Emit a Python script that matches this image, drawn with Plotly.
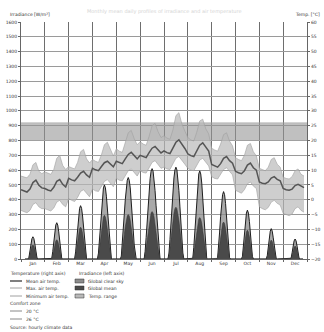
import plotly.graph_objects as go

months = ["Jan", "Feb", "Mar", "Apr", "May", "Jun",
          "Jul", "Aug", "Sep", "Oct", "Nov", "Dec"]

# hourly irradiance, hours 4..20, one list per month (W/m2)
rad_hours = list(range(4, 21))
global_clear = [
    [0, 0, 0, 0, 11, 53, 100, 137, 150, 137, 100, 53, 11, 0, 0, 0, 0],
    [0, 0, 0, 4, 52, 119, 183, 229, 245, 229, 183, 119, 52, 4, 0, 0, 0],
    [0, 0, 0, 48, 127, 214, 290, 342, 360, 342, 290, 214, 127, 48, 0, 0, 0],
    [0, 0, 40, 129, 234, 337, 424, 480, 500, 480, 424, 337, 234, 129, 40, 0, 0],
    [0, 19, 95, 195, 301, 400, 480, 532, 550, 532, 480, 400, 301, 195, 95, 19, 0],
    [0, 52, 145, 253, 363, 462, 542, 593, 610, 593, 542, 462, 363, 253, 145, 52, 0],
    [0, 40, 131, 242, 357, 463, 547, 601, 620, 601, 547, 463, 357, 242, 131, 40, 0],
    [0, 5, 79, 186, 307, 420, 513, 574, 595, 574, 513, 420, 307, 186, 79, 5, 0],
    [0, 0, 10, 81, 182, 286, 374, 434, 455, 434, 374, 286, 182, 81, 10, 0, 0],
    [0, 0, 0, 18, 88, 175, 254, 310, 330, 310, 254, 175, 88, 18, 0, 0, 0],
    [0, 0, 0, 0, 23, 81, 143, 188, 205, 188, 143, 81, 23, 0, 0, 0, 0],
    [0, 0, 0, 0, 5, 42, 87, 122, 135, 122, 87, 42, 5, 0, 0, 0, 0],
]
global_mean = [
    [0, 0, 0, 0, 7, 34, 64, 87, 95, 87, 64, 34, 7, 0, 0, 0, 0],
    [0, 0, 0, 2, 28, 63, 97, 121, 130, 121, 97, 63, 28, 2, 0, 0, 0],
    [0, 0, 0, 28, 76, 128, 173, 204, 215, 204, 173, 128, 76, 28, 0, 0, 0],
    [0, 0, 23, 76, 138, 199, 250, 283, 295, 283, 250, 199, 138, 76, 23, 0, 0],
    [0, 10, 52, 106, 164, 218, 262, 290, 300, 290, 262, 218, 164, 106, 52, 10, 0],
    [0, 28, 76, 132, 190, 243, 284, 311, 320, 311, 284, 243, 190, 132, 76, 28, 0],
    [0, 22, 74, 137, 202, 261, 309, 340, 350, 340, 309, 261, 202, 137, 74, 22, 0],
    [0, 3, 37, 88, 144, 198, 241, 270, 280, 270, 241, 198, 144, 88, 37, 3, 0],
    [0, 0, 5, 45, 100, 157, 206, 239, 250, 239, 206, 157, 100, 45, 5, 0, 0],
    [0, 0, 0, 11, 52, 103, 150, 183, 195, 183, 150, 103, 52, 11, 0, 0, 0],
    [0, 0, 0, 0, 14, 51, 89, 118, 128, 118, 89, 51, 14, 0, 0, 0, 0],
    [0, 0, 0, 0, 3, 27, 57, 79, 88, 79, 57, 27, 3, 0, 0, 0, 0],
]

# 3-hourly air temperature, one list per month (deg C)
temp_hours = [0, 3, 6, 9, 12, 15, 18, 21]
temp_mean = [
    [3.4, 2.9, 2.6, 3.6, 5.8, 6.6, 4.9, 4.0],
    [3.8, 3.3, 3.0, 4.2, 6.2, 6.8, 5.2, 4.3],
    [7.2, 6.7, 6.4, 7.6, 9.0, 9.6, 8.4, 7.6],
    [10.6, 10.1, 9.8, 11.2, 12.5, 13.0, 12.0, 11.1],
    [13.0, 12.5, 12.2, 13.8, 15.3, 16.0, 14.9, 13.8],
    [15.0, 14.5, 14.2, 15.9, 17.4, 18.0, 17.0, 15.8],
    [16.5, 15.9, 15.6, 17.6, 19.4, 20.2, 18.9, 17.3],
    [15.5, 14.9, 14.6, 16.3, 18.4, 19.2, 17.8, 16.4],
    [11.9, 11.4, 11.0, 12.2, 14.0, 14.6, 13.2, 12.3],
    [9.6, 9.1, 8.8, 9.8, 11.7, 12.4, 10.8, 10.0],
    [6.0, 5.6, 5.4, 6.0, 7.3, 7.8, 6.9, 6.4],
    [3.8, 3.4, 3.2, 3.6, 4.8, 5.2, 4.5, 4.1],
]
temp_max = [
    [8.0, 7.6, 7.4, 8.6, 11.8, 12.6, 9.6, 8.8],
    [9.4, 9.0, 8.6, 10.2, 14.0, 15.0, 11.6, 10.2],
    [11.2, 10.8, 10.4, 12.6, 16.2, 17.0, 13.8, 12.4],
    [13.6, 13.0, 12.6, 15.2, 18.6, 19.4, 16.8, 14.8],
    [17.2, 16.4, 16.0, 19.0, 22.6, 23.4, 20.6, 18.6],
    [19.6, 18.8, 18.4, 21.4, 25.0, 25.8, 23.0, 21.0],
    [21.6, 20.8, 20.4, 23.6, 28.4, 29.4, 25.6, 23.2],
    [21.0, 20.2, 19.8, 22.8, 26.6, 27.2, 24.0, 22.2],
    [17.4, 16.8, 16.4, 18.8, 22.0, 22.6, 19.8, 18.2],
    [14.2, 13.6, 13.2, 15.0, 18.4, 19.0, 16.2, 14.8],
    [10.6, 10.2, 9.8, 11.0, 13.6, 14.2, 12.0, 11.0],
    [7.6, 7.2, 7.0, 7.8, 9.8, 10.4, 8.6, 8.0],
]
temp_min = [
    [-3.6, -4.0, -4.4, -3.6, -1.6, -1.0, -2.4, -3.0],
    [-3.0, -3.4, -3.8, -2.8, -0.8, -0.2, -1.6, -2.4],
    [0.4, -0.2, -0.6, 0.8, 2.8, 3.4, 2.0, 1.0],
    [3.6, 3.0, 2.8, 4.4, 6.2, 6.8, 5.6, 4.4],
    [7.2, 6.6, 6.4, 8.0, 9.8, 10.4, 9.2, 8.0],
    [9.8, 9.2, 9.0, 10.8, 12.6, 13.2, 12.0, 10.6],
    [11.0, 10.4, 10.2, 12.0, 14.0, 14.6, 13.4, 12.0],
    [10.6, 10.0, 9.8, 11.4, 13.4, 14.0, 12.6, 11.4],
    [7.8, 7.2, 7.0, 8.4, 10.2, 10.8, 9.4, 8.4],
    [3.2, 2.6, 2.2, 3.4, 5.4, 6.0, 4.6, 3.8],
    [-2.4, -3.0, -3.4, -2.6, -0.8, -0.2, -1.2, -1.8],
    [-4.6, -5.0, -5.4, -4.8, -3.0, -2.4, -3.6, -4.2],
]

comfort_low = 20
comfort_high = 26


def flatten(series, hours):
    """Lay the monthly daily profiles side by side: month m spans [m, m+1]."""
    xs, ys = [], []
    for m, vals in enumerate(series):
        for h, v in zip(hours, vals):
            xs.append(m + h / 24)
            ys.append(v)
    return xs, ys


fig = go.Figure()

# comfort zone band
fig.add_trace(go.Scatter(x=[0, 12], y=[comfort_low, comfort_low], yaxis="y2",
                         mode="lines", line=dict(color="#a8a8a8", width=0.5)))
fig.add_trace(go.Scatter(x=[0, 12], y=[comfort_high, comfort_high], yaxis="y2",
                         mode="lines", line=dict(color="#a8a8a8", width=0.5),
                         fill="tonexty", fillcolor="rgba(150,150,150,0.6)"))

# irradiance
x, y = flatten(global_clear, rad_hours)
fig.add_trace(go.Scatter(x=x, y=y, mode="lines", fill="tozeroy",
                         fillcolor="rgba(140,140,140,0.75)",
                         line=dict(color="#1e1e1e", width=1)))
x, y = flatten(global_mean, rad_hours)
fig.add_trace(go.Scatter(x=x, y=y, mode="lines", fill="tozeroy",
                         fillcolor="#4a4a4a", line=dict(color="#333", width=0.5)))

# temperature range + mean
x, y = flatten(temp_min, temp_hours)
fig.add_trace(go.Scatter(x=x, y=y, yaxis="y2", mode="lines",
                         line=dict(color="#a0a0a0", width=0.6)))
x, y = flatten(temp_max, temp_hours)
fig.add_trace(go.Scatter(x=x, y=y, yaxis="y2", mode="lines",
                         line=dict(color="#a0a0a0", width=0.6),
                         fill="tonexty", fillcolor="rgba(185,185,185,0.7)"))
x, y = flatten(temp_mean, temp_hours)
fig.add_trace(go.Scatter(x=x, y=y, yaxis="y2", mode="lines",
                         line=dict(color="#555", width=1.5)))


# screen pixel -> paper helpers for the hand-made legend (plot area 21..307 x 22..259)
def px(X):
    return (X - 21) / 286


def py(Y):
    return (259 - Y) / 237


txt = dict(size=4.5, color="#333")
ann = [
    dict(x=px(8), y=py(15), text="Irradiance [W/m²]"),
    dict(x=px(293), y=py(15), text="Temp. [°C]"),
    dict(x=px(8), y=py(273), text="Temperature (right axis)"),
    dict(x=px(77), y=py(273), text="Irradiance (left axis)"),
    dict(x=px(24), y=py(281), text="Mean air temp."),
    dict(x=px(24), y=py(288), text="Max. air temp."),
    dict(x=px(24), y=py(296), text="Minimum air temp."),
    dict(x=px(86), y=py(281), text="Global clear sky"),
    dict(x=px(86), y=py(288), text="Global mean"),
    dict(x=px(86), y=py(296), text="Temp. range"),
    dict(x=px(8), y=py(303), text="Comfort zone"),
    dict(x=px(24), y=py(311), text="20 °C"),
    dict(x=px(24), y=py(319), text="26 °C"),
    dict(x=px(8), y=py(327), text="Source: hourly climate data"),
]
annotations = []
for a in ann:
    a.update(xref="paper", yref="paper", xanchor="left", yanchor="middle",
             showarrow=False, font=txt)
    annotations.append(a)
annotations.append(dict(x=0.5, y=py(6), xref="paper", yref="paper", showarrow=False,
                        text="Monthly mean daily profiles of irradiance and air temperature",
                        font=dict(size=5, color="#d4d4d4")))

shapes = []
for Y, col, w in [(281, "#555", 1.5), (288, "#a0a0a0", 1), (296, "#a0a0a0", 1),
                  (311, "#888", 1), (319, "#888", 1)]:
    shapes.append(dict(type="line", xref="paper", yref="paper",
                       x0=px(10), x1=px(22), y0=py(Y), y1=py(Y),
                       line=dict(color=col, width=w)))
for Y, col in [(281, "#8c8c8c"), (288, "#4a4a4a"), (296, "#b9b9b9")]:
    shapes.append(dict(type="rect", xref="paper", yref="paper",
                       x0=px(75), x1=px(84), y0=py(Y + 2), y1=py(Y - 2),
                       fillcolor=col, line=dict(color="#333", width=0.5)))

fig.update_layout(
    width=324, height=332,
    margin=dict(l=21, r=17, t=22, b=73, autoexpand=False),
    paper_bgcolor="white", plot_bgcolor="white",
    showlegend=False,
    font=dict(family="DejaVu Sans", size=5, color="#333"),
    xaxis=dict(range=[0, 12], tickvals=[m + 0.5 for m in range(12)], ticktext=months,
               showgrid=False, ticks="", tickfont=dict(size=4.5), automargin=False,
               showline=True, linecolor="#666",
               minor=dict(tickmode="linear", tick0=0, dtick=1, showgrid=True,
                          gridcolor="#6e6e6e", gridwidth=1, ticks="outside",
                          ticklen=2, tickcolor="#666")),
    yaxis=dict(range=[0, 1600], dtick=100, showgrid=True, gridcolor="#9a9a9a",
               gridwidth=1, zeroline=False, ticks="outside", ticklen=2,
               tickcolor="#666", tickfont=dict(size=4.5), showline=True,
               linecolor="#666", automargin=False),
    yaxis2=dict(range=[-20, 60], dtick=5, overlaying="y", side="right",
                showgrid=False, zeroline=False, ticks="outside", ticklen=2,
                tickcolor="#666", tickfont=dict(size=4.5), showline=True,
                linecolor="#666", automargin=False),
    annotations=annotations,
    shapes=shapes,
)

# drop the default 8 px page margin so the figure sits at the window's corner
fig.write_html("out.html", config={"displayModeBar": False},
               post_script="document.body.style.margin='0';")
